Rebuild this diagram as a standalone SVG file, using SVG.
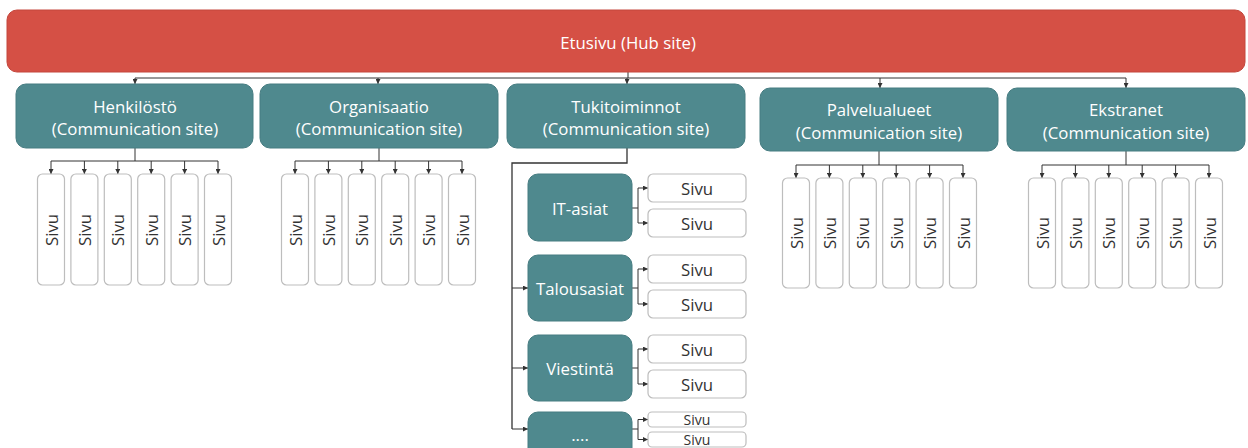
<svg xmlns="http://www.w3.org/2000/svg" width="1248" height="448" viewBox="0 0 1248 448">
<defs>
<style>
.hub{fill:#D55045;stroke:#C4463C;stroke-width:1}
.site{fill:#4F898E;stroke:#467C81;stroke-width:1}
.page{fill:#FFFFFF;stroke:#BDBDBD;stroke-width:1.2}
.wt{font-family:"Open Sans","Liberation Sans",sans-serif;font-size:16.8px;fill:#FFFFFF;text-anchor:middle;dominant-baseline:central}
.pt{font-family:"Open Sans","Liberation Sans",sans-serif;font-size:16.8px;fill:#333333;text-anchor:middle;dominant-baseline:central}
.ps{font-size:14px}
.ln{fill:none;stroke:#333333;stroke-width:1}
.ar{fill:none;stroke:#333333;stroke-width:1;marker-end:url(#ah)}
</style>
<marker id="ah" viewBox="0 0 6 6" refX="6" refY="3" markerWidth="5" markerHeight="5" orient="auto" markerUnits="userSpaceOnUse">
<path d="M0,0 L6,3 L0,6 z" fill="#333333"/>
</marker>
</defs>

<g id="connectors">
<path class="ln" d="M628,72 V78 M135,78 H1126"/>
<path class="ar" d="M135,78 V84"/>
<path class="ar" d="M378,78 V84"/>
<path class="ar" d="M627,78 V84"/>
<path class="ar" d="M880,78 V88"/>
<path class="ar" d="M1126,78 V88"/>

<path class="ln" d="M135,148 V161 M51,161 H218"/>
<path class="ar" d="M51,161 V174"/><path class="ar" d="M84.4,161 V174"/><path class="ar" d="M117.8,161 V174"/><path class="ar" d="M151.2,161 V174"/><path class="ar" d="M184.6,161 V174"/><path class="ar" d="M218,161 V174"/>

<path class="ln" d="M379,148 V161 M295,161 H462"/>
<path class="ar" d="M295,161 V174"/><path class="ar" d="M328.4,161 V174"/><path class="ar" d="M361.8,161 V174"/><path class="ar" d="M395.2,161 V174"/><path class="ar" d="M428.6,161 V174"/><path class="ar" d="M462,161 V174"/>

<path class="ln" d="M879,151 V165 M796,165 H963"/>
<path class="ar" d="M796,165 V178"/><path class="ar" d="M829.4,165 V178"/><path class="ar" d="M862.8,165 V178"/><path class="ar" d="M896.2,165 V178"/><path class="ar" d="M929.6,165 V178"/><path class="ar" d="M963,165 V178"/>

<path class="ln" d="M1126,151 V165 M1042,165 H1209"/>
<path class="ar" d="M1042,165 V178"/><path class="ar" d="M1075.4,165 V178"/><path class="ar" d="M1108.8,165 V178"/><path class="ar" d="M1142.2,165 V178"/><path class="ar" d="M1175.6,165 V178"/><path class="ar" d="M1209,165 V178"/>

<path class="ln" d="M627,148 V163 H512 V429" style="stroke-width:1.3"/>
<path class="ar" d="M512,288 H528"/>
<path class="ar" d="M512,368 H528"/>
<path class="ar" d="M512,429 H528"/>

<path class="ln" d="M632,208 H638 M638,188 V223"/>
<path class="ar" d="M638,188 H648"/><path class="ar" d="M638,223 H648"/>
<path class="ln" d="M632,288 H638 M638,269 V304"/>
<path class="ar" d="M638,269 H648"/><path class="ar" d="M638,304 H648"/>
<path class="ln" d="M632,368 H638 M638,349 V384"/>
<path class="ar" d="M638,349 H648"/><path class="ar" d="M638,384 H648"/>
<path class="ln" d="M632,429 H638 M638,419.5 V439.5"/>
<path class="ar" d="M638,419.5 H648"/><path class="ar" d="M638,439.5 H648"/>
</g>

<g id="hub">
<rect class="hub" x="7" y="10" width="1238" height="62" rx="10"/>
<text class="wt" x="628" y="42">Etusivu (Hub site)</text>
</g>

<g id="henkilosto">
<rect class="site" x="16" y="84" width="237" height="64" rx="10"/>
<text class="wt" x="135" y="106">Henkilöstö</text>
<text class="wt" x="135" y="128">(Communication site)</text>
</g>
<g id="organisaatio">
<rect class="site" x="260" y="84" width="238" height="64" rx="10"/>
<text class="wt" x="379" y="106">Organisaatio</text>
<text class="wt" x="379" y="128">(Communication site)</text>
</g>
<g id="tukitoiminnot">
<rect class="site" x="507" y="84" width="238" height="64" rx="10"/>
<text class="wt" x="626" y="106">Tukitoiminnot</text>
<text class="wt" x="626" y="128">(Communication site)</text>
</g>
<g id="palvelualueet">
<rect class="site" x="760" y="88" width="238" height="63" rx="10"/>
<text class="wt" x="879" y="109">Palvelualueet</text>
<text class="wt" x="879" y="132">(Communication site)</text>
</g>
<g id="ekstranet">
<rect class="site" x="1007" y="88" width="238" height="63" rx="10"/>
<text class="wt" x="1126" y="109">Ekstranet</text>
<text class="wt" x="1126" y="132">(Communication site)</text>
</g>

<g id="henkilosto-pages">
<rect class="page" x="37.5" y="174" width="27" height="111" rx="5"/><text class="pt" transform="translate(51,230) rotate(-90)">Sivu</text>
<rect class="page" x="70.9" y="174" width="27" height="111" rx="5"/><text class="pt" transform="translate(84.4,230) rotate(-90)">Sivu</text>
<rect class="page" x="104.3" y="174" width="27" height="111" rx="5"/><text class="pt" transform="translate(117.8,230) rotate(-90)">Sivu</text>
<rect class="page" x="137.7" y="174" width="27" height="111" rx="5"/><text class="pt" transform="translate(151.2,230) rotate(-90)">Sivu</text>
<rect class="page" x="171.1" y="174" width="27" height="111" rx="5"/><text class="pt" transform="translate(184.6,230) rotate(-90)">Sivu</text>
<rect class="page" x="204.5" y="174" width="27" height="111" rx="5"/><text class="pt" transform="translate(218,230) rotate(-90)">Sivu</text>
</g>
<g id="organisaatio-pages">
<rect class="page" x="281.5" y="174" width="27" height="111" rx="5"/><text class="pt" transform="translate(295,230) rotate(-90)">Sivu</text>
<rect class="page" x="314.9" y="174" width="27" height="111" rx="5"/><text class="pt" transform="translate(328.4,230) rotate(-90)">Sivu</text>
<rect class="page" x="348.3" y="174" width="27" height="111" rx="5"/><text class="pt" transform="translate(361.8,230) rotate(-90)">Sivu</text>
<rect class="page" x="381.7" y="174" width="27" height="111" rx="5"/><text class="pt" transform="translate(395.2,230) rotate(-90)">Sivu</text>
<rect class="page" x="415.1" y="174" width="27" height="111" rx="5"/><text class="pt" transform="translate(428.6,230) rotate(-90)">Sivu</text>
<rect class="page" x="448.5" y="174" width="27" height="111" rx="5"/><text class="pt" transform="translate(462,230) rotate(-90)">Sivu</text>
</g>
<g id="palvelualueet-pages">
<rect class="page" x="782.5" y="178" width="27" height="110" rx="5"/><text class="pt" transform="translate(796,233) rotate(-90)">Sivu</text>
<rect class="page" x="815.9" y="178" width="27" height="110" rx="5"/><text class="pt" transform="translate(829.4,233) rotate(-90)">Sivu</text>
<rect class="page" x="849.3" y="178" width="27" height="110" rx="5"/><text class="pt" transform="translate(862.8,233) rotate(-90)">Sivu</text>
<rect class="page" x="882.7" y="178" width="27" height="110" rx="5"/><text class="pt" transform="translate(896.2,233) rotate(-90)">Sivu</text>
<rect class="page" x="916.1" y="178" width="27" height="110" rx="5"/><text class="pt" transform="translate(929.6,233) rotate(-90)">Sivu</text>
<rect class="page" x="949.5" y="178" width="27" height="110" rx="5"/><text class="pt" transform="translate(963,233) rotate(-90)">Sivu</text>
</g>
<g id="ekstranet-pages">
<rect class="page" x="1028.5" y="178" width="27" height="110" rx="5"/><text class="pt" transform="translate(1042,233) rotate(-90)">Sivu</text>
<rect class="page" x="1061.9" y="178" width="27" height="110" rx="5"/><text class="pt" transform="translate(1075.4,233) rotate(-90)">Sivu</text>
<rect class="page" x="1095.3" y="178" width="27" height="110" rx="5"/><text class="pt" transform="translate(1108.8,233) rotate(-90)">Sivu</text>
<rect class="page" x="1128.7" y="178" width="27" height="110" rx="5"/><text class="pt" transform="translate(1142.2,233) rotate(-90)">Sivu</text>
<rect class="page" x="1162.1" y="178" width="27" height="110" rx="5"/><text class="pt" transform="translate(1175.6,233) rotate(-90)">Sivu</text>
<rect class="page" x="1195.5" y="178" width="27" height="110" rx="5"/><text class="pt" transform="translate(1209,233) rotate(-90)">Sivu</text>
</g>

<g id="it-asiat">
<rect class="site" x="528" y="174" width="104" height="67" rx="10"/>
<text class="wt" x="580" y="208">IT-asiat</text>
</g>
<g id="it-asiat-pages">
<rect class="page" x="648" y="174" width="98" height="28" rx="5"/><text class="pt" x="697" y="188">Sivu</text>
<rect class="page" x="648" y="209" width="98" height="28" rx="5"/><text class="pt" x="697" y="223">Sivu</text>
</g>
<g id="talousasiat">
<rect class="site" x="528" y="255" width="104" height="66" rx="10"/>
<text class="wt" x="580" y="288">Talousasiat</text>
</g>
<g id="talousasiat-pages">
<rect class="page" x="648" y="255" width="98" height="28" rx="5"/><text class="pt" x="697" y="269">Sivu</text>
<rect class="page" x="648" y="290" width="98" height="28" rx="5"/><text class="pt" x="697" y="304">Sivu</text>
</g>
<g id="viestinta">
<rect class="site" x="528" y="335" width="104" height="66" rx="10"/>
<text class="wt" x="580" y="368">Viestintä</text>
</g>
<g id="viestinta-pages">
<rect class="page" x="648" y="335" width="98" height="28" rx="5"/><text class="pt" x="697" y="349">Sivu</text>
<rect class="page" x="648" y="370" width="98" height="28" rx="5"/><text class="pt" x="697" y="384">Sivu</text>
</g>
<g id="more">
<rect class="site" x="528" y="412" width="104" height="60" rx="10"/>
<text class="wt" x="580" y="434">....</text>
</g>
<g id="more-pages">
<rect class="page" x="648" y="412" width="98" height="15" rx="4"/><text class="pt ps" x="697" y="419.5">Sivu</text>
<rect class="page" x="648" y="432" width="98" height="15" rx="4"/><text class="pt ps" x="697" y="439.5">Sivu</text>
</g>
</svg>
